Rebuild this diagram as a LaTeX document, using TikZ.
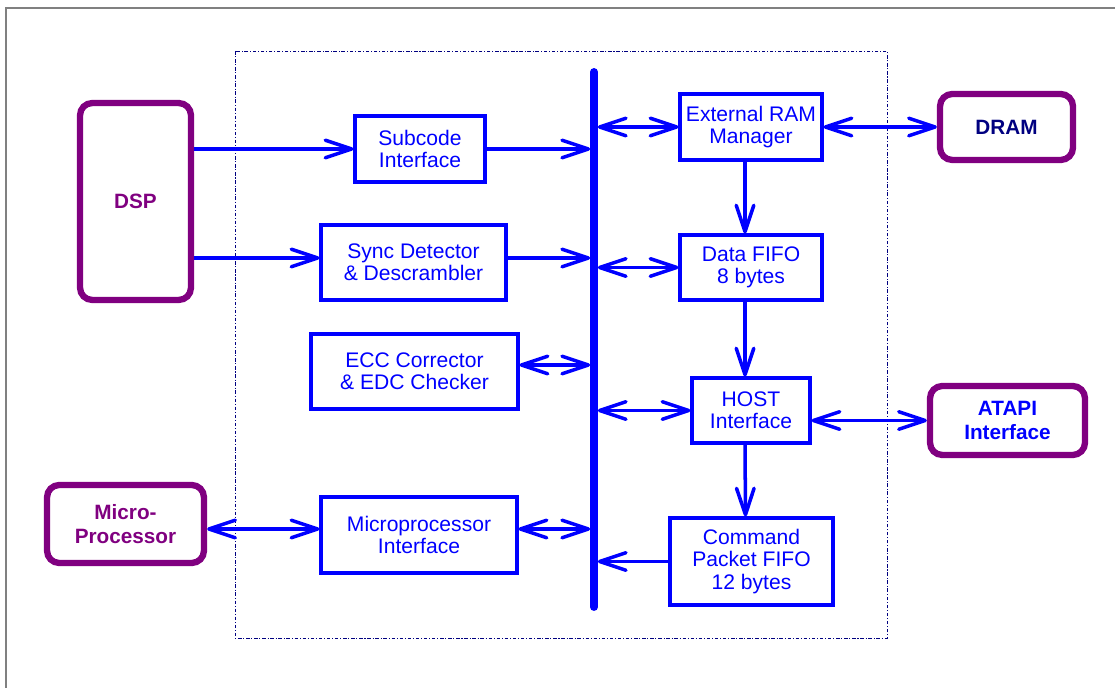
\documentclass[tikz,border=0pt]{standalone}
\usepackage{fontspec}
\setmainfont{Liberation Sans}
\usetikzlibrary{positioning,arrows.meta}
\definecolor{busblue}{RGB}{0,0,255}
\definecolor{extpurple}{RGB}{128,0,128}
\definecolor{darknavy}{RGB}{0,0,128}
\tikzset{
  blk/.style={draw=busblue,line width=1.8pt,text=busblue,align=center,
    font=\fontsize{12}{12.6}\selectfont,inner sep=0pt},
  extblk/.style={draw=extpurple,line width=3.6pt,rounded corners=7pt,align=center,
    font=\fontsize{11.8}{13.5}\selectfont\bfseries,inner sep=0pt},
  barb/.tip={Straight Barb[length=15pt,width=10pt,round]},
  conn/.style={busblue,line width=2pt,-barb},
  biconn/.style={busblue,line width=2pt,barb-barb},
}
\begin{document}
\begin{tikzpicture}[x=0.02cm,y=-0.02cm]
\useasboundingbox (0,0) rectangle (1115,688);
% frame and chip boundary
\draw[gray,line width=1.2pt] (6,688) -- (6,8) -- (1115,8);
\draw[darknavy,line width=0.5pt,dash pattern=on 2pt off 1pt on 0.6pt off 1pt] (235,51) rectangle (887,638);

% outside world
\node[extblk,text=extpurple,minimum width=2.22cm,minimum height=3.94cm] (dsp) at (135.5,201.5) {DSP};
\node[extblk,text=darknavy,minimum width=2.66cm,minimum height=1.32cm] (dram) at (1006.5,127) {DRAM};
\node[extblk,text=busblue,minimum width=3.1cm,minimum height=1.38cm] (atapi) at (1007.5,420.5) {ATAPI\\Interface};
\node[extblk,text=extpurple,minimum width=3.14cm,minimum height=1.56cm] (mp) at (125.5,524) {Micro-\\Processor};

% left column
\node[blk,minimum width=2.6cm,minimum height=1.32cm] (sub) at (420,149) {Subcode\\Interface};
\node[blk,minimum width=3.7cm,minimum height=1.5cm] (sync) at (413.5,262.5) {Sync Detector\\\& Descrambler};
\node[blk,minimum width=4.14cm,minimum height=1.5cm] (ecc) at (414.5,371.5) {ECC Corrector\\\& EDC Checker};
\node[blk,minimum width=3.92cm,minimum height=1.52cm] (mi) at (419,535) {Microprocessor\\Interface};

% right column
\node[blk,minimum width=2.84cm,minimum height=1.32cm] (ram) at (751,127) {External RAM\\Manager};
\node[blk,minimum width=2.84cm,minimum height=1.3cm] (data) at (751,267.5) {Data FIFO\\8 bytes};
\node[blk,minimum width=2.36cm,minimum height=1.3cm] (host) at (751,410.5) {HOST\\Interface};
\node[blk,minimum width=3.26cm,minimum height=1.74cm] (cmd) at (751.5,561.5) {Command\\Packet FIFO\\12 bytes};

% bus
\coordinate (bustop) at (594,72);
\coordinate (busbot) at (594,607);

\draw[conn] (dsp.east |- sub.west) -- (sub.west);
\draw[conn,shorten >=2.2pt] (sub.east) -- (sub.east -| bustop);
\draw[conn] ([yshift=0.09cm]sync.west -| dsp.east) -- ([yshift=0.09cm]sync.west);
\draw[conn,shorten >=2.2pt] ([yshift=0.09cm]sync.east) -- ([yshift=0.09cm]sync.east -| bustop);
\draw[biconn,shorten >=2.2pt] ([yshift=0.13cm]ecc.east) -- ([yshift=0.13cm]ecc.east -| bustop);
\draw[biconn] ([yshift=0.12cm]mi.west -| mp.east) -- ([yshift=0.12cm]mi.west);
\draw[biconn,shorten >=2.2pt] ([yshift=0.12cm]mi.east) -- ([yshift=0.12cm]mi.east -| bustop);

\draw[biconn,shorten <=2.2pt] (ram.west -| bustop) -- (ram.west);
\draw[biconn] (ram.east) -- (dram.west);
\draw[biconn,shorten <=2.2pt] (data.west -| bustop) -- (data.west);
\draw[biconn,shorten <=2.2pt] (host.west -| bustop) -- (host.west);
\draw[biconn] (atapi.west -| host.east) -- (atapi.west);
\draw[conn,shorten >=2.2pt] (cmd.west) -- (cmd.west -| bustop);
\draw[conn] ([xshift=-0.12cm]ram.south) -- ([xshift=-0.12cm]data.north);
\draw[conn] ([xshift=-0.12cm]data.south) -- ([xshift=-0.12cm]host.north);
\draw[conn] ([xshift=-0.12cm]host.south) -- ([xshift=-0.12cm]cmd.north);

\draw[busblue,line width=4.5pt,line cap=round] (bustop) -- (busbot);
\end{tikzpicture}
\end{document}
